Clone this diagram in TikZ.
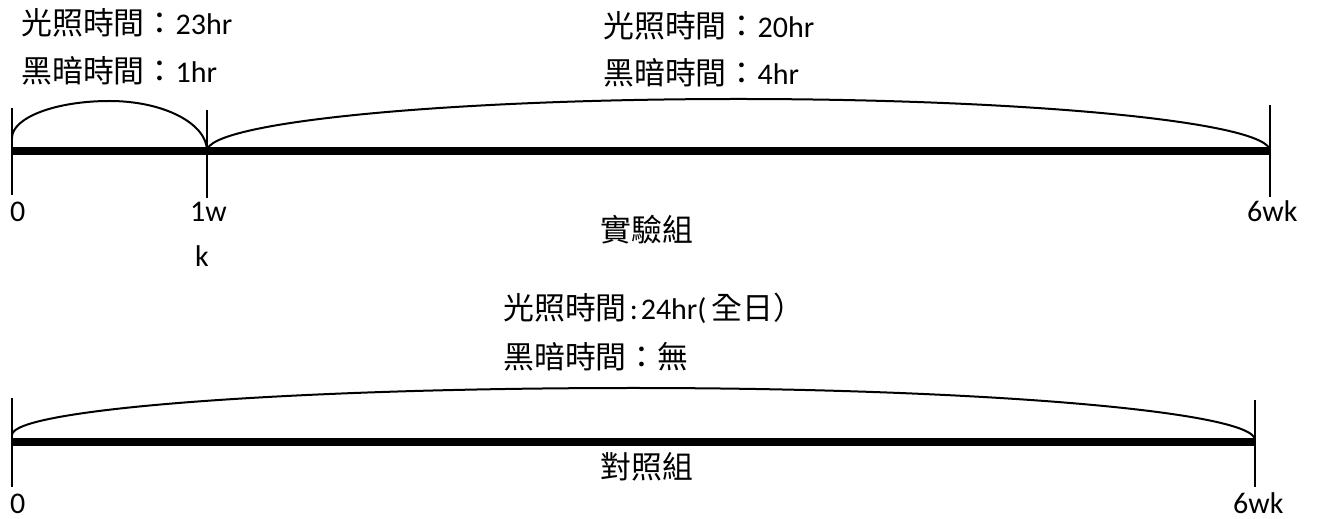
\documentclass[tikz,border=0pt]{standalone}
\usepackage{fontspec}
\setmainfont{Carlito}
\newfontfamily\cjk[Scale=1.03]{Noto Sans CJK TC}
\begin{document}
\begin{tikzpicture}[x=1pt,y=1pt,
  lbl/.style={anchor=base west,inner sep=0pt,font=\fontsize{30}{36}\selectfont},
  axis/.style={line width=8pt},
  tick/.style={line width=2.5pt},
  span/.style={line width=2pt}]
\useasboundingbox (0,0) rectangle (1317,519);
% top timeline
\coordinate (t0) at (12,368);
\coordinate (t1) at (207,368);
\coordinate (t6) at (1270,368);
\coordinate (t0u) at (12,411);
\coordinate (t0d) at (12,324);
\coordinate (t1u) at (207,409);
\coordinate (t1d) at (207,321);
\coordinate (t6u) at (1270,414);
\coordinate (t6d) at (1270,322);
\draw[axis] (t0) -- (t6);
\draw[tick] (t0u) -- (t0d);
\draw[tick] (t1u) -- (t1d);
\draw[tick] (t6u) -- (t6d);
\coordinate (a0) at (12,381);
\draw[span] (a0) arc[start angle=180,end angle=90,x radius=97.5pt,y radius=37pt]
  arc[start angle=90,end angle=0,x radius=97.5pt,y radius=50pt];
\draw[span] (t1) arc[start angle=180,end angle=0,x radius=531.5pt,y radius=52pt];
% top labels
\node[lbl] (l1) at (21,484) {{\cjk 光照時間：}23hr};
\node[lbl] (l2) at (21,436) {{\cjk 黑暗時間：}1hr};
\node[lbl] (r1) at (603,481) {{\cjk 光照時間：}20hr};
\node[lbl] (r2) at (603,434) {{\cjk 黑暗時間：}4hr};
\node[lbl] (exp) at (600,277) {\cjk 實驗組};
\node[lbl] (z0) at (10,297) {0};
\node[lbl] (w1) at (190,297) {1w};
\node[lbl] (wk) at (195,252) {k};
\node[lbl] (w6) at (1247,297) {6wk};
% bottom timeline
\coordinate (b0) at (12,77);
\coordinate (b6) at (1255,77);
\coordinate (b0u) at (12,121);
\coordinate (b0d) at (12,32);
\coordinate (b6u) at (1255,119);
\coordinate (b6d) at (1255,32);
\draw[axis] (b0) -- (b6);
\draw[tick] (b0u) -- (b0d);
\draw[tick] (b6u) -- (b6d);
\coordinate (c0) at (12,84);
\draw[span] (c0) arc[start angle=180,end angle=90,x radius=621.5pt,y radius=47pt]
  arc[start angle=90,end angle=0,x radius=621.5pt,y radius=52pt];
\node[lbl] (m1) at (503,199) {{\cjk 光照時間}\hspace{3pt}:\hspace{3pt}24hr(\,{\cjk 全日）}};
\node[lbl] (m2) at (503,150) {{\cjk 黑暗時間：無}};
\node[lbl] (ctl) at (600,40) {\cjk 對照組};
\node[lbl] (bz) at (10,5) {0};
\node[lbl] (b6w) at (1233,5) {6wk};
\end{tikzpicture}
\end{document}
